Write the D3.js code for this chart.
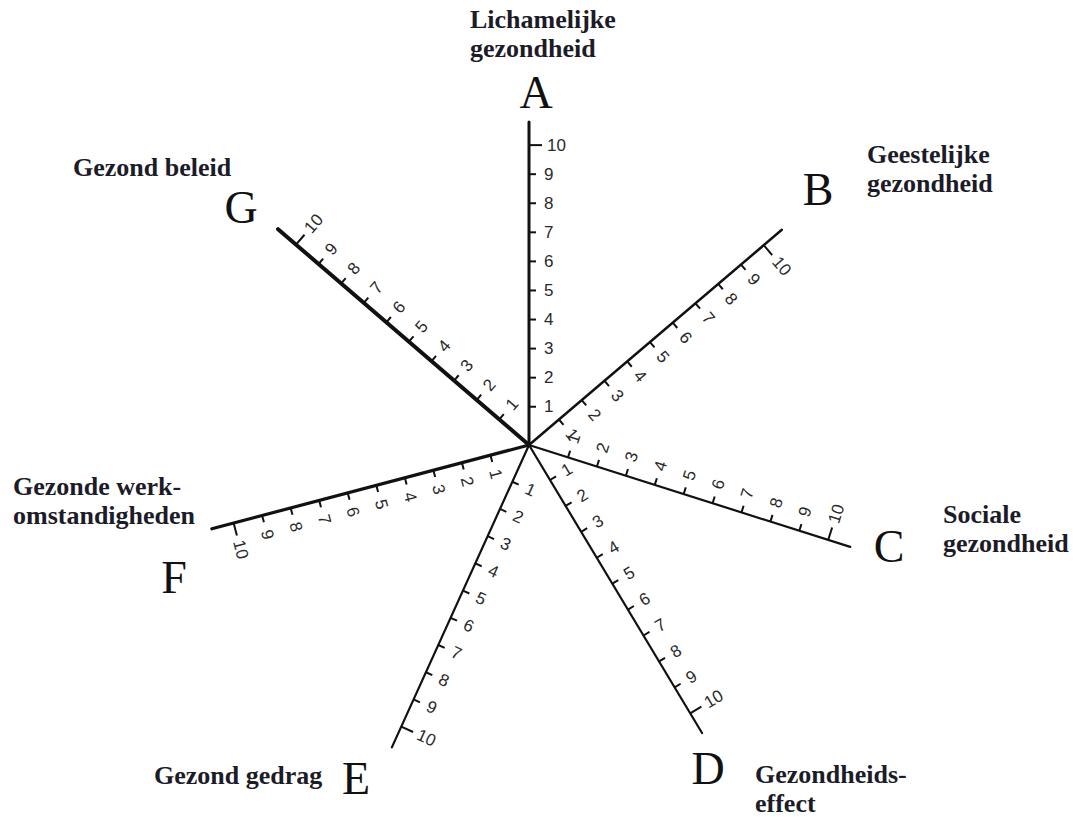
<html><head>
<title>Gezondheidsster</title>
<style>
body {
    margin: 0;
    background-color: #fff;
}

.axis-line {
    stroke: #111;
    stroke-linecap: round;
}

.tick line {
    stroke: #111;
    stroke-width: 2px;
}

.tick text {
    font: 17px "Liberation Sans", sans-serif;
    fill: #2a2a2a;
}

.letter {
    font: 46px "Liberation Serif", serif;
    fill: #111;
}

.name {
    font: bold 26px "Liberation Serif", serif;
    fill: #1c1c28;
}
</style>
<script src="https://d3js.org/d3.v7.min.js"></script>
</head>
<body>
<div id="chart"></div>
<script>
// chart content
const axisLetters = ["A", "B", "C", "D", "E", "F", "G"];
const axisNames = [
    ["Lichamelijke", "gezondheid"],
    ["Geestelijke", "gezondheid"],
    ["Sociale", "gezondheid"],
    ["Gezondheids-", "effect"],
    ["Gezond gedrag"],
    ["Gezonde werk-", "omstandigheden"],
    ["Gezond beleid"]
];
const tickValues = [1, 2, 3, 4, 5, 6, 7, 8, 9, 10];
const scaleMax = 10;

const width = 1077, height = 817;
const center = {x: 529, y: 445};
const axisAngles = [0, 49.6, 107.6, 149, 204.4, 255.2, 310.7];   // degrees, clockwise from up
const axisLengths = [323, 332, 337, 336, 332, 328, 331];
const axisStroke = [3, 2.5, 2.2, 2.2, 2.2, 3.2, 4];
const letterPos = [[536, 108], [818, 205], [889, 562], [708, 784], [356, 794], [174, 593], [241, 223]];
const namePos = [[470, 28], [867, 163], [943, 523], [755, 783], [154, 784], [13, 495], [73, 176]];
const lineGap = 29;

const svg = d3.select("#chart").append("svg")
    .attr("width", width)
    .attr("height", height);

axisAngles.forEach((angle, i) => {
    // keep the numbers readable: rotate upside-down axes by 180 and flip the scale
    const flipped = angle > 90 && angle <= 270;
    let rot = flipped ? angle - 180 : angle;
    if (rot > 180) rot -= 360;
    const dir = flipped ? 1 : -1;
    const len = axisLengths[i];

    const y = d3.scaleLinear()
        .domain([0, scaleMax])
        .range([dir * len * 0.03, dir * len * 0.93]);

    const g = svg.append("g")
        .attr("transform", "translate(" + center.x + "," + center.y + ") rotate(" + rot + ")");

    g.append("line")
        .attr("class", "axis-line")
        .attr("x1", 0).attr("y1", 0)
        .attr("x2", 0).attr("y2", dir * len)
        .style("stroke-width", axisStroke[i]);

    const ax = g.append("g")
        .call(d3.axisRight(y)
            .tickValues(tickValues)
            .tickSize(7)
            .tickPadding(10)
            .tickSizeOuter(0));

    ax.select(".domain").remove();
    ax.selectAll(".tick")
        .filter(d => d === scaleMax)
        .select("line")
        .attr("x2", 13);
    ax.selectAll(".tick text")
        .attr("x", d => d === scaleMax ? 18 : 15);
    ax.attr("font-size", null).attr("font-family", null);
});

svg.selectAll("text.letter")
    .data(axisLetters)
    .join("text")
    .attr("class", "letter")
    .attr("text-anchor", "middle")
    .attr("x", (d, i) => letterPos[i][0])
    .attr("y", (d, i) => letterPos[i][1])
    .text(d => d);

const names = svg.selectAll("text.name")
    .data(axisNames)
    .join("text")
    .attr("class", "name")
    .attr("x", (d, i) => namePos[i][0])
    .attr("y", (d, i) => namePos[i][1]);

names.selectAll("tspan")
    .data(d => d)
    .join("tspan")
    .attr("x", function() { return this.parentNode.getAttribute("x"); })
    .attr("dy", (d, j) => j === 0 ? 0 : lineGap)
    .text(d => d);
</script>
</body>
</html>
